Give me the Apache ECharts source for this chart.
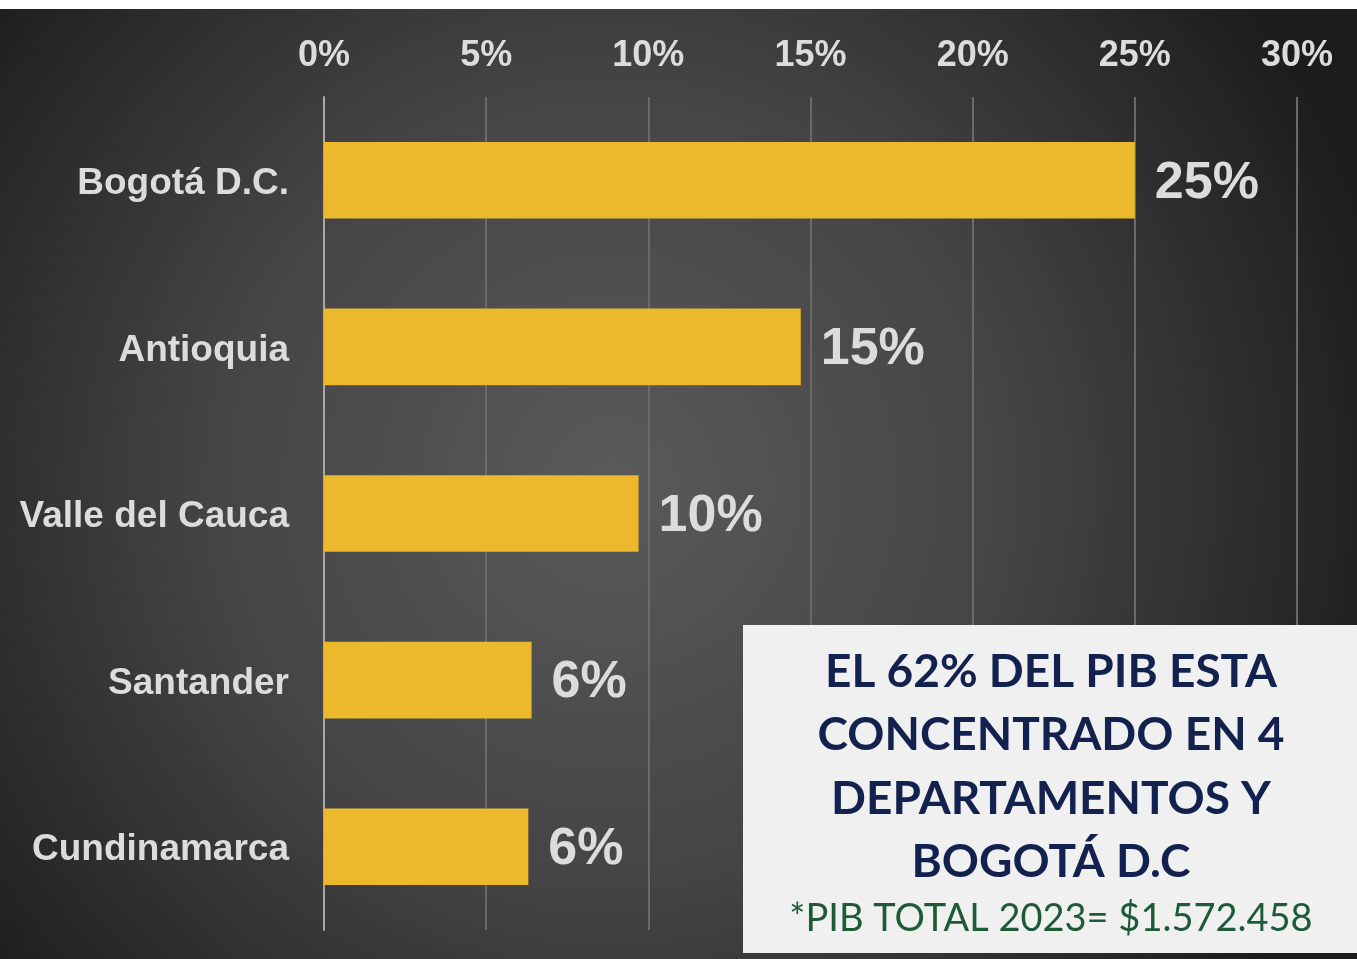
<!DOCTYPE html>
<html><head><meta charset="utf-8">
<script src="https://cdn.jsdelivr.net/npm/echarts@6/dist/echarts.min.js"></script>
<style>html,body{margin:0;padding:0;background:#fff;}#c{position:absolute;left:0;top:9px;width:1357px;height:950px;}</style>
</head><body><div id="c"></div>
<script>
const categories = ['Bogotá D.C.', 'Antioquia', 'Valle del Cauca', 'Santander', 'Cundinamarca'];
const values = [25.0, 14.7, 9.7, 6.4, 6.3];
const tickMax = 30, tickStep = 5;
const boxTitle = ['EL 62% DEL PIB ESTA', 'CONCENTRADO EN 4', 'DEPARTAMENTOS Y', 'BOGOTÁ D.C'];
const boxNote = '*PIB TOTAL 2023= $1.572.458';

const chart = echarts.init(document.getElementById('c'));
const txt = '#dcdcdc';
const lab = {color:txt, fontFamily:'Liberation Sans', fontWeight:'bold', fontSize:37, padding:[7,0,0,0]};
chart.setOption({
  backgroundColor: {type:'radial', x:0.45, y:0.5, r:0.85,
    colorStops:[{offset:0,color:'#5a5a5a'},{offset:0.5,color:'#444'},{offset:1,color:'#1c1c1c'}]},
  grid: {left:324, right:60, top:88, bottom:29, containLabel:false},
  xAxis: {type:'value', position:'top', min:0, max:tickMax, interval:tickStep,
    axisLine:{show:false}, axisTick:{show:false},
    axisLabel:{formatter:'{value}%', color:txt, fontFamily:'Liberation Sans', fontWeight:'bold', fontSize:36, margin:23},
    splitLine:{lineStyle:{color:'#6a6a6a', width:2}}},
  yAxis: {type:'category', data:categories, inverse:true,
    axisLine:{lineStyle:{color:'#a8a8a8', width:2}}, axisTick:{show:false},
    axisLabel:{margin:35, formatter:v=>'{a|'+v+'}', rich:{a:lab}}},
  series: [{type:'bar', data:values, barWidth:'46%',
    itemStyle:{color:'#ebb92b'},
    label:{show:true, position:'right', distance:20, offset:[0,3], color:txt, fontFamily:'Liberation Sans', fontWeight:'bold', fontSize:52,
      formatter:p=>Math.round(p.value)+'%'}}],
  graphic: [
    {type:'group', z:100, children:[
      {type:'rect', left:743, top:616, z:100, shape:{width:614, height:328}, style:{fill:'#f0f0f0'}},
      ...boxTitle.map((t,i)=>({type:'text', z:101, x:1051, y:663+i*63.5, style:{text:t, fill:'#13214f', font:'bold 46px Lato', textAlign:'center', textVerticalAlign:'middle'}})),
      {type:'text', z:101, x:1051, y:910, style:{text:boxNote, fill:'#1e5a3a', font:'38px Lato', textAlign:'center', textVerticalAlign:'middle'}}
    ]}
  ]
});
</script></body></html>
